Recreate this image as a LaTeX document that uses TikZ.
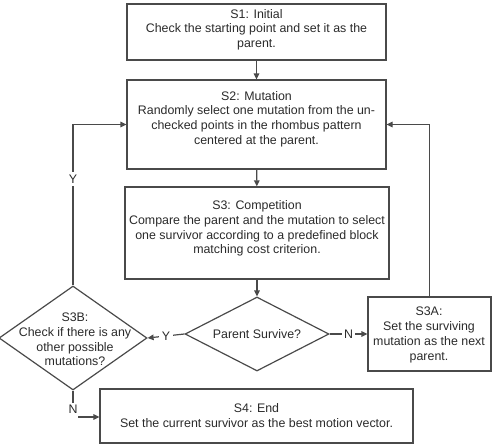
\documentclass[tikz,border=0pt]{standalone}
\usepackage{fontspec}
\setmainfont{Liberation Sans}
\usetikzlibrary{shapes.geometric,arrows.meta}
\definecolor{linec}{HTML}{4A4A4A}
\definecolor{textc}{HTML}{2A2A2A}
\begin{document}
\begin{tikzpicture}[x=1pt,y=-1pt,
 box/.style={draw=linec, line width=1.2pt, rectangle, inner sep=0pt},
 dia/.style={draw=linec, line width=1.2pt, diamond, inner sep=0pt},
 txt/.style={text=textc, align=center, font=\fontsize{12.4}{14.7}\selectfont, inner sep=0pt},
 conn/.style={draw=linec, line width=1.2pt},
 arr/.style={conn, -{Triangle[length=6pt,width=5.5pt]}},
 lab/.style={txt, fill=white, inner sep=2.5pt}]
\useasboundingbox (0,0) rectangle (492,444);
% boxes
\node[box, minimum width=259pt, minimum height=56pt] (s1) at (256.5,32) {};
\node[txt] (s1t) at (256.5,29.5) {S1: Initial\\Check the starting point and set it as the\\parent.};
\node[box, minimum width=259pt, minimum height=89pt] (s2) at (256.5,124.5) {};
\node[txt] (s2t) at (256.5,119) {S2: Mutation\\Randomly select one mutation from the un-\\checked points in the rhombus pattern\\centered at the parent.};
\node[box, minimum width=264pt, minimum height=92pt] (s3) at (257,233) {};
\node[txt] (s3t) at (257,228.5) {S3: Competition\\Compare the parent and the mutation to select\\one survivor according to a predefined block\\matching cost criterion.};
\node[dia, minimum width=144pt, minimum height=74pt] (ps) at (257,334) {};
\node[txt] (pst) at (257,334) {Parent Survive?};
\node[dia, minimum width=148pt, minimum height=104pt] (s3b) at (73,338) {};
\node[txt] (s3bt) at (75,339.5) {S3B:\\Check if there is any\\other possible\\mutations?};
\node[box, minimum width=123pt, minimum height=74pt] (s3a) at (429.5,334) {};
\node[txt] (s3at) at (429,335) {S3A:\\Set the surviving\\mutation as the next\\parent.};
\node[box, minimum width=313pt, minimum height=54pt] (s4) at (256.5,416) {};
\node[txt] (s4t) at (256.5,415.5) {S4: End\\Set the current survivor as the best motion vector.};
% connectors
\draw[arr] (s1) -- (s2);
\draw[arr] (s2) -- (s3);
\draw[arr] (s3.south) -- (ps.north);
\draw[arr] (ps.west) -- node[lab]{Y} (s3b.east);
\draw[arr] (ps.east) -- node[lab]{N} (s3a.west);
\draw[arr] (s3a.north) |- (s2.east);
\draw[arr] (s3b.north) |- node[lab, pos=0.33]{Y} (s2.west);
\node[txt, inner sep=1.5pt] (nlab) at (73,409) {N};
\draw[conn] (s3b.south) -- (nlab.north);
\coordinate (nstart) at (78,417);
\draw[arr] (nstart) -- (s4.west |- nstart);
\end{tikzpicture}
\end{document}
